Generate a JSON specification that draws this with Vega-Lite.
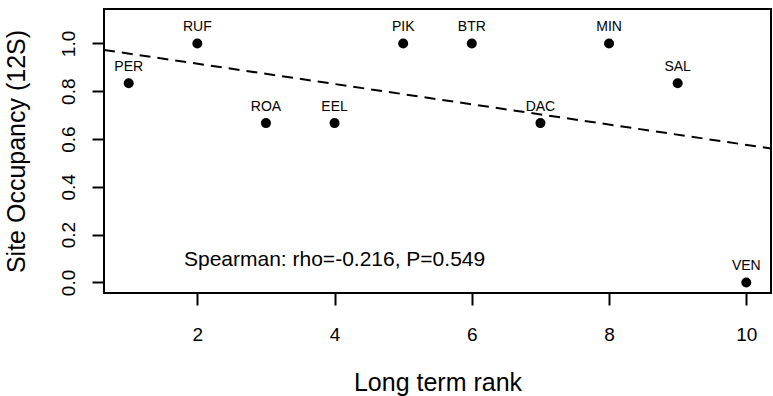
{
  "$schema": "https://vega.github.io/schema/vega-lite/v6.json",
  "width": 667,
  "height": 284,
  "autosize": "none",
  "padding": {"left": 104, "top": 9, "right": 2, "bottom": 103},
  "background": "white",
  "config": {
    "font": "Liberation Sans",
    "view": {"stroke": "black", "strokeWidth": 2},
    "axis": {
      "grid": false,
      "domain": false,
      "tickColor": "black",
      "tickWidth": 2,
      "tickSize": 12,
      "labelColor": "black",
      "titleColor": "black",
      "labelFontSize": 19,
      "titleFontSize": 25,
      "titleFontWeight": "normal"
    }
  },
  "data": {
    "values": [
      {"species": "PER", "rank": 1, "occ": 0.8333},
      {"species": "RUF", "rank": 2, "occ": 1.0},
      {"species": "ROA", "rank": 3, "occ": 0.6667},
      {"species": "EEL", "rank": 4, "occ": 0.6667},
      {"species": "PIK", "rank": 5, "occ": 1.0},
      {"species": "BTR", "rank": 6, "occ": 1.0},
      {"species": "DAC", "rank": 7, "occ": 0.6667},
      {"species": "MIN", "rank": 8, "occ": 1.0},
      {"species": "SAL", "rank": 9, "occ": 0.8333},
      {"species": "VEN", "rank": 10, "occ": 0.0}
    ]
  },
  "layer": [
    {
      "transform": [{"regression": "occ", "on": "rank", "extent": [0.64, 10.36]}],
      "mark": {"type": "line", "color": "black", "strokeWidth": 2, "strokeDash": [11, 7], "clip": true},
      "encoding": {
        "x": {"field": "rank", "type": "quantitative"},
        "y": {"field": "occ", "type": "quantitative"}
      }
    },
    {
      "mark": {"type": "point", "filled": true, "shape": "circle", "color": "black", "opacity": 1, "size": 100},
      "encoding": {
        "x": {
          "field": "rank",
          "type": "quantitative",
          "scale": {"domain": [0.64, 10.36], "nice": false, "zero": false},
          "axis": {
            "values": [2, 4, 6, 8, 10],
            "format": "d",
            "labelPadding": 35,
            "labelBaseline": "alphabetic",
            "title": "Long term rank",
            "titleBaseline": "alphabetic",
            "titleY": 97,
            "titleX": 333.5,
            "titleAlign": "center"
          }
        },
        "y": {
          "field": "occ",
          "type": "quantitative",
          "scale": {"domain": [-0.044, 1.144], "nice": false, "zero": false},
          "axis": {
            "values": [0, 0.2, 0.4, 0.6, 0.8, 1.0],
            "format": ".1f",
            "labelAngle": 270,
            "labelAlign": "center",
            "labelBaseline": "alphabetic",
            "labelPadding": 18,
            "title": "Site Occupancy (12S)",
            "titleAngle": 270,
            "titleAlign": "center",
            "titleBaseline": "alphabetic",
            "titleX": -80,
            "titleY": 142
          }
        }
      }
    },
    {
      "mark": {"type": "text", "fontSize": 14, "color": "black", "baseline": "alphabetic", "align": "center", "dy": -12},
      "encoding": {
        "x": {"field": "rank", "type": "quantitative"},
        "y": {"field": "occ", "type": "quantitative"},
        "text": {"field": "species"}
      }
    },
    {
      "data": {"values": [{"x": 4, "y": 0.1, "label": "Spearman: rho=-0.216, P=0.549"}]},
      "mark": {"type": "text", "fontSize": 21, "color": "black", "baseline": "alphabetic", "align": "center", "dy": 7},
      "encoding": {
        "x": {"field": "x", "type": "quantitative"},
        "y": {"field": "y", "type": "quantitative"},
        "text": {"field": "label"}
      }
    }
  ]
}
